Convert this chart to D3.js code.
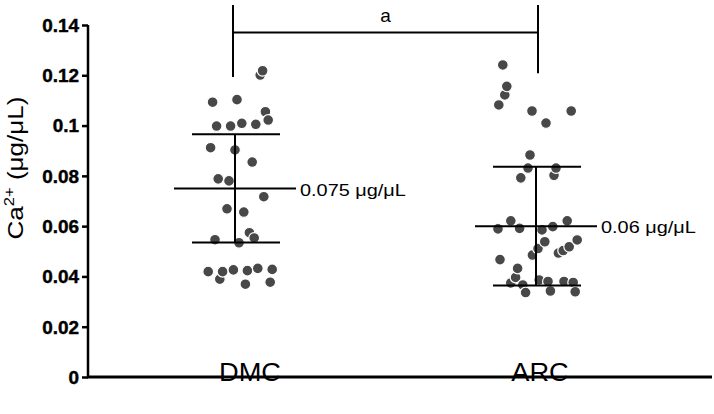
<!DOCTYPE html>
<html>
<head>
<meta charset="utf-8">
<script src="https://cdn.jsdelivr.net/npm/d3@7"></script>
<style>
  body { margin: 0; background: #fff; }
  text { font-family: "Liberation Sans", Arial, sans-serif; }
</style>
</head>
<body>
<script>
var width = 714,
    height = 414;

var groups = ["DMC", "ARC"];
var yTicks = [0, 0.02, 0.04, 0.06, 0.08, 0.1, 0.12, 0.14];
var yTickLabels = ["0", "0.02", "0.04", "0.06", "0.08", "0.1", "0.12", "0.14"];

var means = [0.075, 0.06];
var sds = [0.0215, 0.0236];
var meanLabels = ["0.075 μg/μL", "0.06 μg/μL"];

// values; jitter is horizontal spread within a group (-1..1)
var dmcValues = [0.1201, 0.1218, 0.1093, 0.1103, 0.1055, 0.1022, 0.0998, 0.0998, 0.1009, 0.1005,
                 0.0912, 0.0903, 0.0855, 0.0788, 0.0780, 0.0717, 0.0669, 0.0656, 0.0574, 0.0553,
                 0.0546, 0.0534, 0.0389, 0.0419, 0.0419, 0.0426, 0.0423, 0.0432, 0.0428, 0.0369, 0.0377];
var dmcJitter = [0.63, 0.69, -0.56, 0.05, 0.76, 0.83, -0.46, -0.11, 0.17, 0.52,
                 -0.61, 0, 0.43, -0.42, -0.15, 0.72, -0.2, 0.22, 0.36, 0.48,
                 -0.5, 0.1, -0.38, -0.67, -0.31, -0.04, 0.31, 0.57, 0.93, 0.26, 0.88];

var arcValues = [0.1241, 0.1122, 0.1156, 0.1082, 0.1058, 0.1058, 0.1010, 0.0883, 0.0802, 0.0831,
                 0.0831, 0.0792, 0.0621, 0.0589, 0.0591, 0.0621, 0.0598, 0.0585, 0.0485, 0.0511,
                 0.0538, 0.0493, 0.0503, 0.0518, 0.0545, 0.0467, 0.0374, 0.0396, 0.0432, 0.0366,
                 0.0336, 0.0386, 0.0380, 0.0342, 0.0380, 0.0376, 0.0339];
var arcJitter = [-0.83, -0.78, -0.73, -0.93, -0.1, 0.88, 0.25, -0.15, 0.45, -0.2,
                 0.5, -0.38, -0.63, -0.95, -0.41, 0.78, 0.42, 0.15, -0.09, 0.05,
                 0.22, 0.56, 0.68, 0.83, 1.03, -0.9, -0.63, -0.51, -0.46, -0.33,
                 -0.26, 0.08, 0.3, 0.36, 0.7, 0.93, 0.98];

var bracket = {from: "DMC", to: "ARC", label: "a", top: 0.148, bottom: [0.1193, 0.1208], bar: 0.137};

var svg = d3.select("body")
    .append("svg")
    .attr("width", width)
    .attr("height", height);

var x = d3.scalePoint().domain(groups).range([235, 536]);
var y = d3.scaleLinear().domain([0, 0.14]).range([377, 25]);
var jitter = d3.scaleLinear().domain([-1, 1]).range([-40, 40]);

// the reference text looks widened, so stretch glyphs to a target width
function stretch(sel, k) {
    sel.each(function() {
        var w = this.getComputedTextLength();
        d3.select(this).attr("textLength", w * k).attr("lengthAdjust", "spacingAndGlyphs");
    });
}

var points = [];
dmcValues.forEach(function(v, i) { points.push({g: "DMC", v: v, j: dmcJitter[i]}); });
arcValues.forEach(function(v, i) { points.push({g: "ARC", v: v, j: arcJitter[i]}); });

svg.append("g").selectAll("circle")
    .data(points)
    .enter().append("circle")
    .attr("cx", function(d) { return x(d.g) + jitter(d.j); })
    .attr("cy", function(d) { return y(d.v); })
    .attr("r", 5.4)
    .attr("fill", "#484848")
    .attr("stroke", "#fff")
    .attr("stroke-width", 1.2);

// mean and sd bars
var bars = svg.append("g").attr("stroke", "#000").attr("stroke-width", 2);
groups.forEach(function(g, i) {
    var cx = x(g);
    bars.append("line")
        .attr("x1", cx).attr("x2", cx)
        .attr("y1", y(means[i] + sds[i])).attr("y2", y(means[i] - sds[i]));
    bars.append("line")
        .attr("x1", cx - 61).attr("x2", cx + 61)
        .attr("y1", y(means[i])).attr("y2", y(means[i]));
    [means[i] + sds[i], means[i] - sds[i]].forEach(function(v) {
        bars.append("line")
            .attr("x1", cx - 43).attr("x2", cx + 45)
            .attr("y1", y(v)).attr("y2", y(v));
    });
    svg.append("text")
        .attr("x", cx + 65)
        .attr("y", y(means[i]))
        .attr("dy", "0.42em")
        .attr("font-size", 17)
        .text(meanLabels[i])
        .call(stretch, 1.17);
});

// significance bracket
var bx1 = x(bracket.from) - 2, bx2 = x(bracket.to) + 2;
var br = svg.append("g").attr("stroke", "#000").attr("stroke-width", 2);
br.append("line").attr("x1", bx1).attr("x2", bx1).attr("y1", y(bracket.top)).attr("y2", y(bracket.bottom[0]));
br.append("line").attr("x1", bx2).attr("x2", bx2).attr("y1", y(bracket.top)).attr("y2", y(bracket.bottom[1]));
br.append("line").attr("x1", bx1).attr("x2", bx2).attr("y1", y(bracket.bar)).attr("y2", y(bracket.bar));
svg.append("text")
    .attr("x", (bx1 + bx2) / 2)
    .attr("y", 22)
    .attr("text-anchor", "middle")
    .attr("font-size", 19)
    .text(bracket.label);

// y axis
var yAxis = svg.append("g")
    .attr("transform", "translate(88,0)")
    .call(d3.axisLeft(y).tickValues(yTicks).tickSize(6).tickPadding(3)
        .tickFormat(function(d, i) { return yTickLabels[i]; }));
yAxis.select(".domain").attr("d", "M0," + y(0.14) + "V" + y(0)).attr("stroke-width", 2.5);
yAxis.selectAll(".tick line").attr("stroke-width", 2.5);
yAxis.selectAll(".tick text")
    .attr("font-family", "Liberation Sans, Arial, sans-serif")
    .attr("font-weight", "bold")
    .attr("font-size", 17.5)
    .attr("dy", "0.36em")
    .attr("fill", "#000")
    .attr("stroke", "#000")
    .attr("stroke-width", 0.4)
    .call(stretch, 1.08);

// x axis
svg.append("line")
    .attr("x1", 87).attr("x2", 712)
    .attr("y1", y(0)).attr("y2", y(0))
    .attr("stroke", "#000").attr("stroke-width", 2.8);

var labelShift = [15, 4];
svg.append("g").selectAll("text")
    .data(groups)
    .enter().append("text")
    .attr("x", function(d, i) { return x(d) + labelShift[i]; })
    .attr("y", 381)
    .attr("text-anchor", "middle")
    .attr("font-size", 25)
    .text(function(d) { return d; })
    .call(stretch, 1.09);

// y axis title
var yt = svg.append("text")
    .attr("text-anchor", "middle")
    .attr("font-size", 22);
yt.append("tspan").text("Ca");
yt.append("tspan").attr("font-size", 14).attr("dy", -9).text("2+");
yt.append("tspan").attr("dy", 9).text(" (μg/μL)");
var ytLen = yt.node().getComputedTextLength();
yt.attr("transform", "translate(23,168) rotate(-90) scale(" + (143 / ytLen) + ",1)");
</script>
</body>
</html>
